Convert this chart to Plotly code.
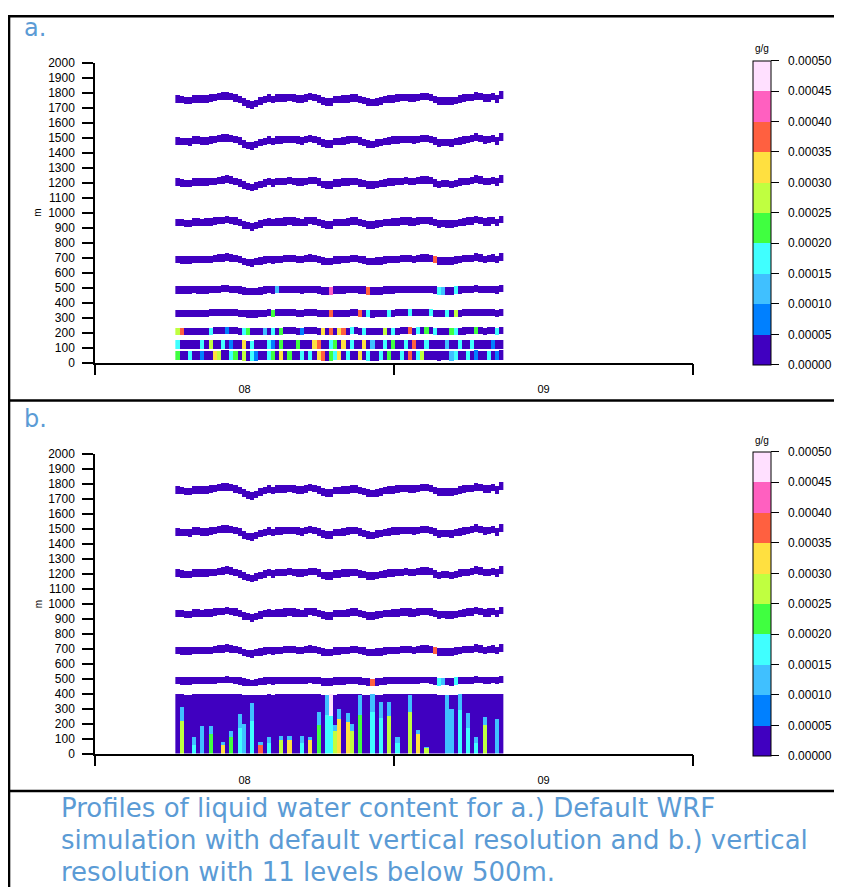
import numpy as np
import plotly.graph_objects as go

# ---------------- data ----------------
# colour classes of liquid water content (g/g)
lwc_colors = ["#4000C0", "#0080FF", "#40C0FF", "#40FFFF", "#40FF40",
              "#C0FF40", "#FFE040", "#FF6040", "#FF60C0", "#FFE0FF"]
lwc_ticks = [0.0, 0.00005, 0.0001, 0.00015, 0.0002, 0.00025,
             0.0003, 0.00035, 0.0004, 0.00045, 0.0005]
day_labels = ["08", "09"]
day_label_hours = [12, 36]
day_boundaries = [0, 24, 48]
height_ticks = list(range(0, 2001, 100))

# time columns (20-minute output, hours since 08 00UTC)
n_steps = 79
t_start = 6.45
dt = 1.0 / 3.0

# height wobble of the upper model levels (m), read per output step
wave_top = [-1, -5, -9, -10, 2, 1, -1, 0, 4, 8,
            14, 18, 21, 15, 7, -3, -21, -33, -41, -29,
            -15, -7, 3, -7, 3, 3, 6, 10, 6, 2,
            -1, 6, 13, 11, -1, -17, -21, -21, -7, -5,
            -2, 2, 7, 7, -3, -12, -21, -26, -19, -13,
            -6, -1, 1, 3, 8, 9, 6, 3, 9, 15,
            15, 11, -3, -17, -13, -14, -17, -9, -1, 5,
            8, 12, 22, 15, 3, 6, 13, -1, 25]

# panel a: default vertical levels
levels_a = [50, 120, 212, 332, 487, 690, 938, 1205, 1482, 1760]
thick_a = [64, 58, 50, 50, 50, 50, 50, 50, 50, 50]
amp_a = [0.03, 0.05, 0.1, 0.2, 0.35, 0.6, 0.75, 0.85, 0.95, 1.0]
# (level index, step, lwc)
events_a = [
    (0, 0, 0.00020), (0, 3, 0.00016), (0, 6, 0.00009), (0, 9, 0.00030), (0, 10, 0.00026),
    (0, 13, 0.00017), (0, 14, 0.00022), (0, 16, 0.00028), (0, 18, 0.00016), (0, 19, 0.00008),
    (0, 22, 0.00017), (0, 23, 0.00023), (0, 25, 0.00031), (0, 27, 0.00024), (0, 30, 0.00017),
    (0, 32, 0.00016), (0, 34, 0.00031), (0, 35, 0.00037), (0, 37, 0.00024), (0, 38, 0.00016),
    (0, 39, 0.00032), (0, 41, 0.00016), (0, 44, 0.00031), (0, 46, 0.00016), (0, 49, 0.00017),
    (0, 51, 0.00023), (0, 54, 0.00017), (0, 56, 0.00038), (0, 58, 0.00016), (0, 59, 0.00028),
    (0, 66, 0.00013), (0, 67, 0.00016), (0, 70, 0.00017), (0, 72, 0.00009), (0, 75, 0.00016),
    (0, 77, 0.00009),
    (1, 0, 0.00017), (1, 6, 0.00017), (1, 8, 0.00029), (1, 11, 0.00016), (1, 13, 0.00008),
    (1, 16, 0.00030), (1, 18, 0.00016), (1, 22, 0.00016), (1, 23, 0.00009), (1, 25, 0.00021),
    (1, 29, 0.00024), (1, 33, 0.00033), (1, 34, 0.00036), (1, 37, 0.00017), (1, 38, 0.00023),
    (1, 40, 0.00031), (1, 42, 0.00016), (1, 45, 0.00031), (1, 47, 0.00013), (1, 50, 0.00017),
    (1, 52, 0.00023), (1, 55, 0.00017), (1, 57, 0.00039), (1, 60, 0.00016), (1, 65, 0.00013),
    (1, 68, 0.00017), (1, 71, 0.00016), (1, 76, 0.00009),
    (2, 0, 0.00028), (2, 1, 0.00036), (2, 8, 0.00016), (2, 12, 0.00009), (2, 16, 0.00017),
    (2, 17, 0.00023), (2, 21, 0.00011), (2, 23, 0.00017), (2, 25, 0.00023), (2, 30, 0.00009),
    (2, 35, 0.00031), (2, 37, 0.00038), (2, 39, 0.00031), (2, 40, 0.00037), (2, 42, 0.00016),
    (2, 45, 0.00016), (2, 50, 0.00027), (2, 52, 0.00016), (2, 56, 0.00039), (2, 58, 0.00016),
    (2, 60, 0.00024), (2, 62, 0.00016), (2, 66, 0.00021), (2, 67, 0.00016), (2, 72, 0.00023),
    (2, 77, 0.00016),
    (3, 23, 0.00022), (3, 37, 0.00038), (3, 44, 0.00037), (3, 46, 0.00016), (3, 51, 0.00016),
    (3, 56, 0.00017), (3, 61, 0.00016), (3, 65, 0.00016), (3, 67, 0.00028),
    (4, 24, 0.00012), (4, 37, 0.00043), (4, 46, 0.00038), (4, 63, 0.00016), (4, 64, 0.00012),
    (4, 67, 0.00016),
    (5, 62, 0.00038),
]

# panel b: 11 levels below 500 m (merged block) + upper levels
levels_b = [487, 690, 938, 1205, 1482, 1760]
thick_b = [48, 50, 50, 50, 50, 50]
amp_b = [0.35, 0.6, 0.75, 0.85, 0.95, 1.0]
events_b = [(0, 47, 0.00039), (0, 63, 0.00016), (0, 64, 0.00012), (0, 67, 0.00017),
            (1, 62, 0.00038)]
block_top_b = 398
block_amp_b = 0.08
spike_step = [1, 4, 6, 8, 11, 13, 15, 16, 18, 20, 22, 25, 27, 30, 32, 34, 36, 37, 38,
              39, 41, 42, 44, 47, 49, 51, 53, 56, 58, 60, 65, 66, 68, 70, 72, 74, 77]
spike_top = [309, 113, 184, 186, 80, 153, 264, 200, 340, 80, 113, 118, 118, 118, 113,
             279, 395, 398, 193, 302, 269, 200, 393, 398, 347, 347, 113, 395, 160, 47,
             395, 300, 398, 269, 113, 247, 236]
spike_core_top = [220, 60, 110, 130, 60, 110, 170, 120, 220, 60, 70, 90, 90, 70, 90,
                  190, 260, 250, 150, 230, 210, 150, 260, 280, 240, 250, 70, 280, 130, 40,
                  250, 200, 290, 170, 70, 190, 150]
spike_core_val = [0.00028, 0.00016, 0.00014, 0.00021, 0.00031, 0.00022, 0.00016, 0.00012,
                  0.00017, 0.00038, 0.00019, 0.00028, 0.00031, 0.00017, 0.00030, 0.00022,
                  0.00016, 0.00018, 0.00029, 0.00031, 0.00033, 0.00027, 0.00021, 0.00018,
                  0.00019, 0.00026, 0.00016, 0.00029, 0.00034, 0.00026, 0.00013, 0.00011,
                  0.00019, 0.00017, 0.00016, 0.00028, 0.00012]
spike_tip_val = 0.00011
# extra thin streaks in panel b: (step, bottom m, top m, lwc)
streaks_b = [(37, 250, 398, 0.00047)]

# ---------------- grid construction ----------------
times = t_start + (np.arange(n_steps) + 0.5) * dt
dz = 5.0
heights = np.arange(dz / 2, 2000, dz)


def build_levels(z, levels, thick, amp, events):
    ev = {(i, k): v for i, k, v in events}
    for i, (lev, th, a) in enumerate(zip(levels, thick, amp)):
        for k in range(n_steps):
            c = lev + a * wave_top[k]
            m = np.abs(heights - c) <= th / 2
            z[m, k] = ev.get((i, k), 0.00001)
    return z


z_a = np.full((len(heights), n_steps), np.nan)
z_a = build_levels(z_a, levels_a, thick_a, amp_a, events_a)

z_b = np.full((len(heights), n_steps), np.nan)
z_b = build_levels(z_b, levels_b, thick_b, amp_b, events_b)
for k in range(n_steps):
    top = block_top_b + block_amp_b * wave_top[k]
    z_b[heights <= top, k] = 0.00001
for k, top, ctop, v in zip(spike_step, spike_top, spike_core_top, spike_core_val):
    z_b[(heights <= top) & (heights > ctop), k] = spike_tip_val
    z_b[heights <= ctop, k] = v
for k, y0, y1, v in streaks_b:
    z_b[(heights >= y0) & (heights <= y1), k] = v

# ---------------- figure ----------------
# where the figure lands in the photographed page
OFF_X, OFF_Y, SY = 8, 13, 0.9855
W, H = 842 - 2 * OFF_X, 886


def px(x):
    return (x - OFF_X) / W


def py(y):
    return 1 - ((y - OFF_Y) / SY) / H


def plen(d):
    return d / SY


cscale = []
for i, c in enumerate(lwc_colors):
    cscale.append([i / len(lwc_colors), c])
    cscale.append([(i + 1) / len(lwc_colors), c])

tick_text = ["\u00a0\u00a0" + f"{v:.5f}" for v in lwc_ticks]
font_txt = "Liberation Sans, Arial, sans-serif"


def cbar(ytop, ybot):
    return dict(
        x=px(753), xanchor="left", xpad=0,
        y=py((ytop + ybot) / 2), yanchor="middle", ypad=0,
        len=plen(ybot - ytop), lenmode="pixels",
        thickness=18, thicknessmode="pixels",
        outlinewidth=1, outlinecolor="black",
        ticks="outside", ticklen=8, tickwidth=1, tickcolor="black",
        tickmode="array", tickvals=lwc_ticks, ticktext=tick_text,
        tickfont=dict(size=12, color="black", family=font_txt),
    )


fig = go.Figure()
fig.add_trace(go.Heatmap(
    x=times, y=heights, z=z_a, zmin=0, zmax=0.0005, colorscale=cscale,
    zsmooth=False, xaxis="x", yaxis="y", colorbar=cbar(61, 361), hoverongaps=False,
))
fig.add_trace(go.Heatmap(
    x=times, y=heights, z=z_b, zmin=0, zmax=0.0005, colorscale=cscale,
    zsmooth=False, xaxis="x2", yaxis="y2", colorbar=cbar(452.5, 752.5), hoverongaps=False,
))


def xax(anchor):
    return dict(
        domain=[px(95), px(693)], range=[0, 48], anchor=anchor,
        showline=True, linecolor="black", linewidth=1.5,
        showgrid=False, zeroline=False,
        tickmode="array", tickvals=day_label_hours, ticktext=day_labels, ticks="",
        ticklabelstandoff=16,
        tickfont=dict(size=11, color="black", family=font_txt),
        minor=dict(tickmode="array", tickvals=day_boundaries, ticks="outside",
                   ticklen=11, tickwidth=1.5, tickcolor="black", showgrid=False),
    )


def yax(anchor, ytop, ybot):
    return dict(
        domain=[py(ybot), py(ytop)], range=[0, 2000], anchor=anchor,
        showline=True, linecolor="black", linewidth=1.5,
        showgrid=False, zeroline=False,
        tickmode="array", tickvals=height_ticks, ticks="outside",
        ticklen=11, tickwidth=1.5, tickcolor="black", ticklabelstandoff=5,
        tickfont=dict(size=12, color="black", family=font_txt),
    )


fig.update_layout(
    width=W, height=H, margin=dict(l=0, r=0, t=0, b=0),
    paper_bgcolor="white", plot_bgcolor="white",
    xaxis=xax("y"), yaxis=yax("x", 61, 361),
    xaxis2=xax("y2"), yaxis2=yax("x2", 452.5, 752.5),
)

blue = "#5B9BD5"
ann = [
    dict(text="a.", x=px(22), y=py(26), xanchor="left", yanchor="middle",
         font=dict(size=24, color=blue, family="DejaVu Sans")),
    dict(text="b.", x=px(22), y=py(418), xanchor="left", yanchor="middle",
         font=dict(size=24, color=blue, family="DejaVu Sans")),
    dict(text="m", x=px(38), y=py(211), textangle=-90, xanchor="center", yanchor="middle",
         font=dict(size=10, color="black", family=font_txt)),
    dict(text="m", x=px(38), y=py(603), textangle=-90, xanchor="center", yanchor="middle",
         font=dict(size=10, color="black", family=font_txt)),
    dict(text="g/g", x=px(762), y=py(47), xanchor="center", yanchor="middle",
         font=dict(size=10, color="black", family=font_txt)),
    dict(text="g/g", x=px(762), y=py(439), xanchor="center", yanchor="middle",
         font=dict(size=10, color="black", family=font_txt)),
]
caption = ["Profiles of liquid water content for a.) Default WRF",
           "simulation with default vertical resolution and b.) vertical",
           "resolution with 11 levels below 500m."]
caption_y = [807, 839.5, 871]
for line, yy in zip(caption, caption_y):
    ann.append(dict(text=line, x=px(59), y=py(yy), xanchor="left", yanchor="middle",
                    font=dict(size=26, color=blue, family="DejaVu Sans")))
for a in ann:
    a.update(xref="paper", yref="paper", showarrow=False)
fig.update_layout(annotations=ann)

lw = 2.6
shapes = [
    dict(type="line", x0=px(9), x1=px(9), y0=1, y1=0),
    dict(type="line", x0=px(8), x1=px(842), y0=1 - 1.2 / H, y1=1 - 1.2 / H),
    dict(type="line", x0=px(8), x1=px(842), y0=py(399), y1=py(399)),
    dict(type="line", x0=px(8), x1=px(842), y0=py(790), y1=py(790)),
]
for s in shapes:
    s.update(xref="paper", yref="paper", line=dict(color="black", width=lw))
fig.update_layout(shapes=shapes)

fig.write_html("out.html")
